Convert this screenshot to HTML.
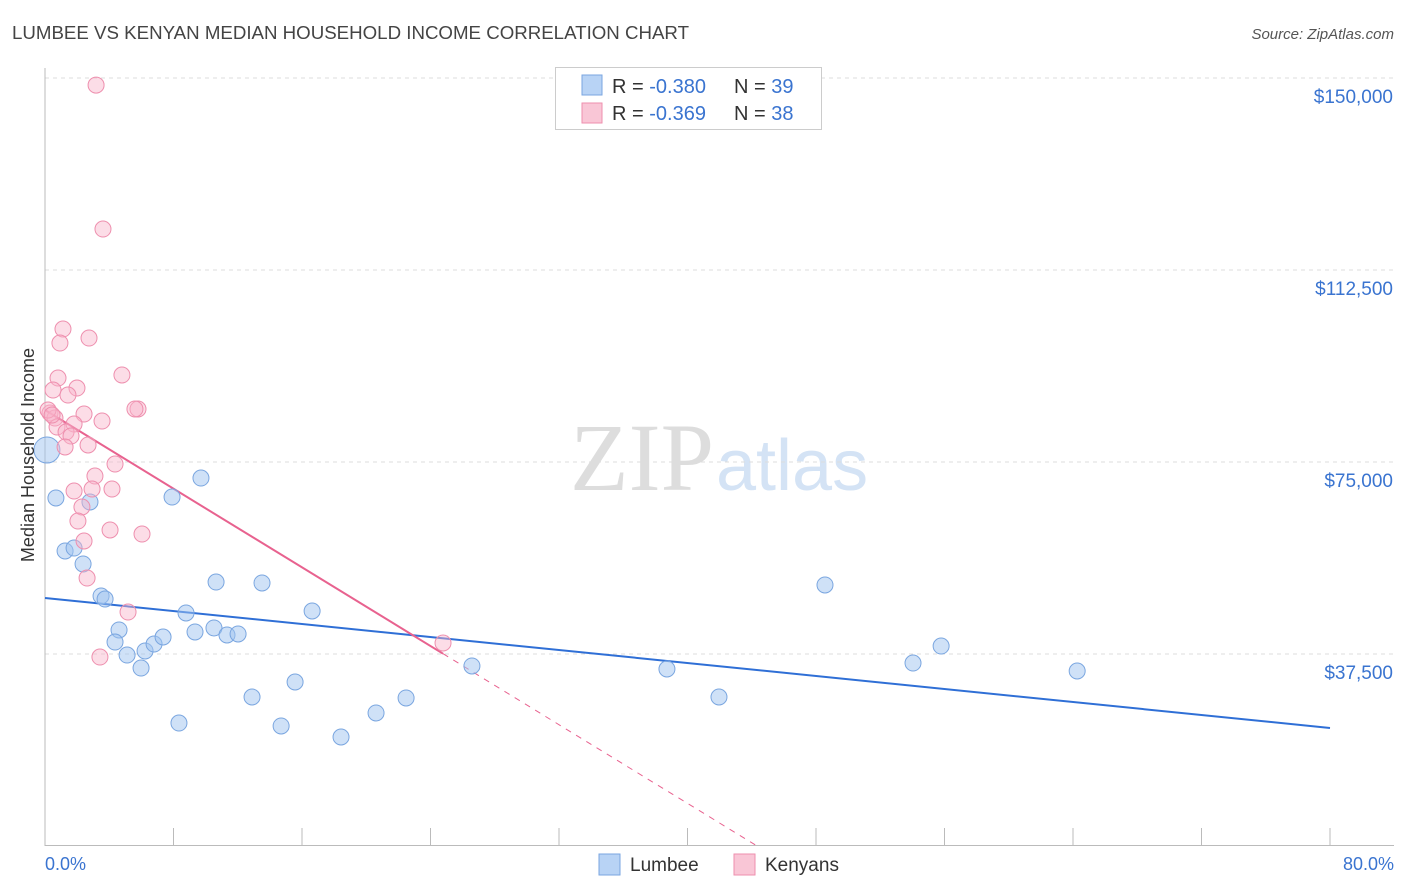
<!DOCTYPE html>
<html><head><meta charset="utf-8"><style>
body{margin:0;background:#fff;font-family:"Liberation Sans",sans-serif;}
svg{display:block}
</style></head><body>
<svg id="chart" width="1406" height="892">
<text x="12" y="39" font-size="18.7" fill="#444">LUMBEE VS KENYAN MEDIAN HOUSEHOLD INCOME CORRELATION CHART</text>
<text x="1394" y="39" font-size="15" fill="#555" text-anchor="end" font-style="italic">Source: ZipAtlas.com</text>
<text x="714" y="490" font-size="96" fill="#ddd" text-anchor="end" font-family="Liberation Serif,serif">ZIP</text>
<text x="716" y="490" font-size="72" fill="#d4e3f5">atlas</text>
<g id="grid"></g><g id="axes"></g><g id="trends"></g><g id="points"></g>
<text x="34" y="455" font-size="18" fill="#333" text-anchor="middle" transform="rotate(-90 34 455)">Median Household Income</text>
<text x="45" y="870" font-size="18" fill="#3a74d0">0.0%</text>
<text x="1394" y="870" font-size="18" fill="#3a74d0" text-anchor="end">80.0%</text>
<g>
<rect x="555.5" y="67.5" width="266" height="62" fill="#fff" stroke="#ccc"/>
<rect x="582" y="75" width="20" height="20" fill="#b8d3f5" stroke="#7aa6e0"/>
<text x="612" y="93" font-size="20" fill="#333">R = <tspan fill="#3a74d0">-0.380</tspan><tspan x="734">N = </tspan><tspan fill="#3a74d0">39</tspan></text>
<rect x="582" y="103" width="20" height="20" fill="#f9c6d6" stroke="#ee8fae"/>
<text x="612" y="120" font-size="20" fill="#333">R = <tspan fill="#3a74d0">-0.369</tspan><tspan x="734">N = </tspan><tspan fill="#3a74d0">38</tspan></text>
</g>
<g>
<rect x="599" y="854" width="21" height="21" fill="#b8d3f5" stroke="#7aa6e0"/>
<text x="630" y="871" font-size="19" fill="#333">Lumbee</text>
<rect x="734" y="854" width="21" height="21" fill="#f9c6d6" stroke="#ee8fae"/>
<text x="765" y="871" font-size="19" fill="#333">Kenyans</text>
</g>
</svg>
<script>
const yTicks=[37500,75000,112500,150000];
const yTickLabels=["$37,500","$75,000","$112,500","$150,000"];
const lumbeeX=[0.12,0.68,1.25,1.81,2.37,2.8,3.49,3.74,4.61,4.36,5.11,5.98,6.23,6.79,7.35,7.91,8.34,8.78,9.34,9.71,10.52,10.65,11.33,12.02,12.89,13.51,14.7,15.57,16.63,18.43,20.61,22.48,26.58,38.72,41.96,48.56,54.04,55.79,64.26];
const lumbeeY=[77340,67970,57620,58200,55080,67190,48830,48240,42190,39840,37300,34760,38090,39450,40820,68160,24020,45510,41800,71870,42580,51560,41210,41410,29100,51370,23440,32030,45900,21290,25980,28910,35160,34570,29100,50980,35740,39060,34180];
const kenyX=[3.18,3.61,1.12,0.93,2.74,4.79,0.81,1.99,0.5,1.43,5.79,5.6,2.43,0.31,0.62,3.55,1.81,0.75,1.31,1.62,2.68,1.25,4.36,3.11,2.93,1.81,4.17,2.3,2.05,4.05,6.04,2.43,2.62,5.17,3.42,24.78,0.19,0.44];
const kenyY=[148620,120500,100970,98240,99210,91990,91400,89450,89060,88080,85350,85350,84370,84570,83590,83000,82420,81830,80850,80070,78320,77930,74600,72260,69720,69330,69720,66210,63470,61720,60930,59570,52340,45700,36910,39650,85150,84170];
const lumbeeTrend=[48430,23050];
const kenyTrend=[85150,-68500];
const NS="http://www.w3.org/2000/svg";
const xs=v=>45+v/80*1285, ys=v=>846-v/37500*192;
function mk(t,a,p){const e=document.createElementNS(NS,t);for(const k in a)e.setAttribute(k,a[k]);document.getElementById(p).appendChild(e);return e;}
yTicks.forEach((t,i)=>{
 const g=mk('line',{x1:45,x2:1394,y1:ys(t),y2:ys(t),stroke:'#ddd','stroke-dasharray':'4,4'},'grid');
 
 
 const l=mk('text',{x:1393,y:ys(t)+25,'font-size':19,fill:'#3a74d0','text-anchor':'end'},'axes');
 l.textContent=yTickLabels[i];
 
 
});
mk('line',{x1:45,x2:45,y1:68,y2:846,stroke:'#bbb'},'axes');
mk('line',{x1:45,x2:1394,y1:845.5,y2:845.5,stroke:'#bbb'},'axes');
for(let i=0;i<=10;i++){const x=xs(i*8);const t=mk('line',{x1:x,x2:x,y1:828,y2:846,stroke:'#bbb'},'axes');
 
 }
const bt=mk('line',{x1:xs(0),y1:ys(lumbeeTrend[0]),x2:xs(80),y2:ys(lumbeeTrend[1]),stroke:'#2f6fd6','stroke-width':2},'trends');


const kf=x=>kenyTrend[0]+(kenyTrend[1]-kenyTrend[0])*x/80;
const kmax=Math.max(...kenyX);
const kz=-kenyTrend[0]*80/(kenyTrend[1]-kenyTrend[0]);
const kt=mk('line',{x1:xs(0),y1:ys(kf(0)),x2:xs(kmax),y2:ys(kf(kmax)),stroke:'#e8628f','stroke-width':2},'trends');


const kd=mk('line',{x1:xs(kmax),y1:ys(kf(kmax)),x2:xs(kz),y2:ys(0),stroke:'#e8628f','stroke-width':1,'stroke-dasharray':'6,6'},'trends');


lumbeeX.forEach((x,i)=>{const c=mk('circle',{cx:xs(x),cy:ys(lumbeeY[i]),r:i==0?13:8,fill:'rgba(160,196,240,0.5)',stroke:'#7aa6e0'},'points');
 
 });
kenyX.forEach((x,i)=>{const c=mk('circle',{cx:xs(x),cy:ys(kenyY[i]),r:8,fill:'rgba(248,180,202,0.45)',stroke:'#ee8fae'},'points');
 
 });
</script>
</body></html>
